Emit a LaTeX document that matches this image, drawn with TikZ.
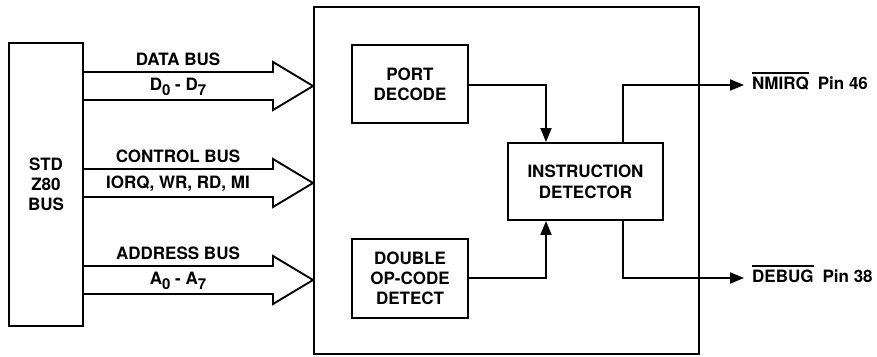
\documentclass[tikz,border=0pt]{standalone}
\usepackage{fontspec}
\setmainfont{TeX Gyre Heros}
\usetikzlibrary{arrows.meta}
\newcommand{\sbx}[1]{\raisebox{-0.5ex}{\fontsize{15}{15}\selectfont #1}}
\newcommand{\ovbar}[1]{\setbox0\hbox{#1}\rlap{\rule[15.5pt]{\wd0}{1.3pt}}\box0}
\begin{document}
\begin{tikzpicture}[x=1pt,y=-1pt,
  every node/.style={font=\bfseries\fontsize{17}{20}\selectfont},
  blk/.style={draw,line width=1.9pt,inner sep=0pt,align=center},
  wire/.style={line width=1.9pt},
  arr/.style={wire,-{Triangle[length=14pt,width=11pt]}},
  bus/.style={line width=1.9pt,line join=miter},
  lbl/.style={inner sep=0pt}]
\useasboundingbox (0,0) rectangle (877,356);
\fill[white] (0,0) rectangle (877,356);
% boxes
\node[blk,minimum width=74pt,minimum height=283pt] (std) at (46,184.5) {STD\\Z80\\BUS};
\node[blk,minimum width=385pt,minimum height=347pt] (main) at (506.5,180.5) {};
\node[blk,minimum width=116pt,minimum height=78pt] (port) at (410,84) {PORT\\DECODE};
\node[blk,minimum width=116pt,minimum height=79pt] (dbl) at (410,278.5) {DOUBLE\\OP-CODE\\DETECT};
\node[blk,minimum width=155pt,minimum height=77pt] (ins) at (585.5,181.5) {INSTRUCTION\\[1pt]DETECTOR};
% bus arrows
\foreach \n/\yc/\top/\sub in {d/86/DATA BUS/{D\sbx{0} - D\sbx{7}},c/183/CONTROL BUS/{IORQ, WR, RD, MI},a/280/ADDRESS BUS/{A\sbx{0} - A\sbx{7}}}{
  \coordinate (\n s1) at (std.east |- 0,\yc-14);
  \coordinate (\n s2) at (std.east |- 0,\yc+14);
  \coordinate (\n t) at (main.west |- 0,\yc);
  \draw[bus] (\n s1) -- (273,\yc-14) -- (273,\yc-24) -- (\n t) -- (273,\yc+24) -- (273,\yc+14) -- (\n s2);
  \node[lbl] (\n top) at (178,\yc-27) {\top};
  \node[lbl] (\n sub) at (178,\yc+1) {\sub};
}
% internal connectors
\draw[arr] (port.east |- 0,85) -| (ins.north -| 546,0);
\draw[arr] (dbl.east |- 0,278) -| (ins.south -| 546,0);
% outputs
\coordinate (o1) at (744,85);
\coordinate (o2) at (744,278);
\draw[arr] (ins.north -| 623,0) |- (o1);
\draw[arr] (ins.south -| 623,0) |- (o2);
\node[lbl,anchor=base west] (nm) at (752,89) {\ovbar{NMIRQ}\hspace{9pt}Pin 46};
\node[lbl,anchor=base west] (db) at (752,282) {\ovbar{DEBUG}\hspace{9pt}Pin 38};
\end{tikzpicture}
\end{document}
